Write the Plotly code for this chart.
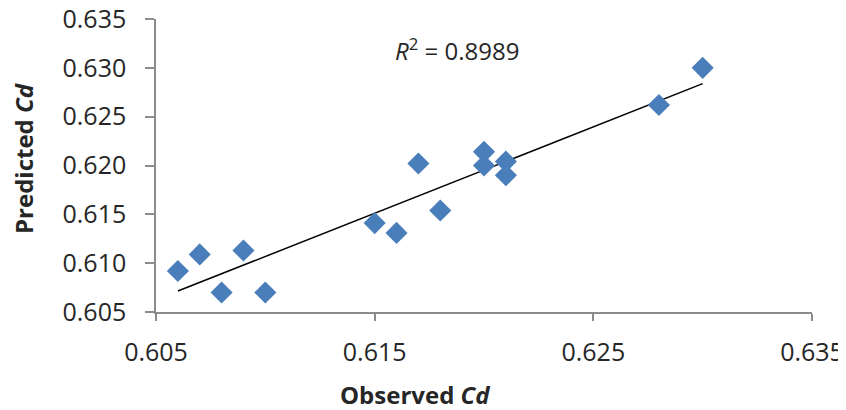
import numpy as np
import plotly.graph_objects as go

observed = [0.606, 0.607, 0.608, 0.609, 0.610, 0.615, 0.616, 0.617, 0.618,
            0.620, 0.620, 0.621, 0.621, 0.628, 0.630]
predicted = [0.6092, 0.6109, 0.6070, 0.6113, 0.6070, 0.6141, 0.6131, 0.6202, 0.6154,
             0.6214, 0.6200, 0.6204, 0.6190, 0.6262, 0.6300]
r2_label = "<i>R</i><sup>2</sup> = 0.8989"
x_ticks = [0.605, 0.615, 0.625, 0.635]
y_ticks = [0.605, 0.610, 0.615, 0.620, 0.625, 0.630, 0.635]

slope, intercept = np.polyfit(observed, predicted, 1)
x_fit = np.array([min(observed), max(observed)])
y_fit = slope * x_fit + intercept

FONT = "Open Sans"
AXIS_COL = "#8c8c8c"
TXT = "#262626"

fig = go.Figure()
fig.add_trace(go.Scatter(x=x_fit, y=y_fit, mode="lines",
                         line=dict(color="black", width=1.5), hoverinfo="skip"))
fig.add_trace(go.Scatter(x=observed, y=predicted, mode="markers",
                         marker=dict(symbol="diamond", size=17, color="#4a7ebb",
                                     line=dict(width=0))))

fig.update_layout(
    width=838, height=402,
    margin=dict(l=148, r=34, t=11, b=98, autoexpand=False),
    plot_bgcolor="white", paper_bgcolor="white",
    showlegend=False,
    font=dict(family=FONT, size=25, color=TXT),
)
fig.update_xaxes(range=[0.605, 0.635], tickvals=x_ticks,
                 ticktext=[f"{v:.3f}" for v in x_ticks], automargin=False,
                 showgrid=False, zeroline=False, showline=True, linecolor=AXIS_COL,
                 linewidth=1.5, ticks="outside", ticklen=7, tickcolor=AXIS_COL,
                 tickwidth=1.5, ticklabelstandoff=10, ticklabeloverflow="allow")
fig.update_yaxes(range=[0.605, 0.635], tickvals=y_ticks,
                 ticktext=[f"{v:.3f}" for v in y_ticks], automargin=False,
                 showgrid=False, zeroline=False, showline=True, linecolor=AXIS_COL,
                 linewidth=1.5, ticks="outside", ticklen=9, tickcolor=AXIS_COL,
                 tickwidth=1.5, ticklabelstandoff=14, ticklabeloverflow="allow")

fig.add_annotation(text="<b>Observed <i>Cd</i></b>", xref="paper", yref="paper",
                   x=0.395, y=-0.282, xanchor="center", yanchor="middle",
                   showarrow=False, font=dict(family=FONT, size=24, color=TXT))
fig.add_annotation(text="<b>Predicted <i>Cd</i></b>", xref="paper", yref="paper",
                   x=-0.203, y=0.525, xanchor="center", yanchor="middle",
                   textangle=-90, showarrow=False,
                   font=dict(family=FONT, size=24, color=TXT))
fig.add_annotation(text=r2_label, xref="paper", yref="paper",
                   x=0.361, y=0.897, xanchor="left", yanchor="middle",
                   showarrow=False, font=dict(family=FONT, size=24, color=TXT))

fig.write_html("out.html")
